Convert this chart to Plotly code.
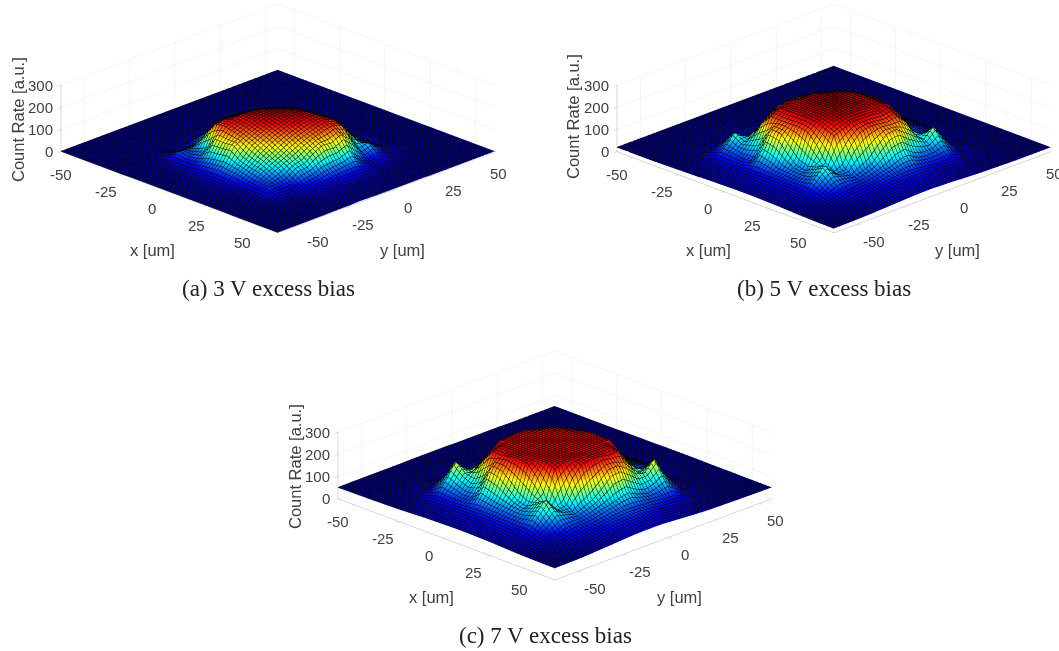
import plotly.graph_objects as go

x_um = [-59,-49,-39,-29,-24,-19,-14,-9,-4,1,6,11,16,21,26,31,36,41,46,51,61]
y_um = [-63,-53,-48,-43,-38,-33,-28,-23,-18,-13,-8,-3,2,7,12,17,22,27,37,47,57]
xy_ticks = [-50,-25,0,25,50]
z_ticks = [0,100,200,300]
captions = ["(a) 3 V excess bias","(b) 5 V excess bias","(c) 7 V excess bias"]
background_counts = [0, 18, 50]
color_tops = [215, 285, 325]

# counts above the flat background
count_3v = [
[2,2,2,2,2,3,3,3,3,3,3,3,3,3,3,3,2,2,2,2,2],
[2,2,2,3,3,4,5,5,6,7,7,7,6,5,5,4,3,3,3,2,2],
[2,2,3,4,5,5,7,8,10,12,12,12,10,8,8,8,5,4,3,3,2],
[2,2,3,6,8,14,13,16,21,24,25,24,21,16,14,13,8,5,4,3,2],
[2,2,4,10,23,45,36,40,52,60,65,60,52,39,34,38,19,8,5,4,2],
[2,3,4,8,20,42,54,70,127,126,133,95,80,72,53,36,19,8,5,4,3],
[2,3,5,12,22,50,110,170,177,167,155,137,114,95,75,42,22,12,7,5,3],
[2,3,5,16,46,82,135,178,190,184,172,158,140,115,95,74,39,21,14,9,3],
[2,3,6,22,55,110,150,175,199,196,188,176,160,140,114,80,45,25,16,10,5],
[2,3,7,28,75,118,150,175,198,203,200,190,176,158,137,112,60,28,16,10,4],
[2,3,7,30,81,118,145,172,193,202,205,200,188,172,155,133,64,32,14,8,3],
[2,3,7,31,71,118,140,164,183,195,202,203,196,184,167,127,71,35,12,8,3],
[2,3,6,21,64,104,136,155,168,183,193,198,199,190,177,150,87,30,12,8,3],
[2,3,5,16,36,105,125,141,155,164,172,177,177,178,165,114,44,20,10,6,3],
[2,3,5,12,40,90,109,125,136,140,145,150,150,135,110,55,25,12,7,5,3],
[2,3,4,8,24,70,90,105,104,115,118,118,108,80,58,70,35,14,6,4,3],
[2,2,4,6,25,35,50,53,64,71,81,75,50,39,36,39,21,8,5,4,2],
[2,2,3,5,10,14,18,22,26,30,32,30,26,20,17,20,11,6,4,3,2],
[2,2,2,3,3,4,5,5,6,7,7,7,6,5,5,4,3,3,3,2,2],
[2,2,2,2,2,3,3,3,3,3,3,3,3,3,3,3,2,2,2,2,2],
[2,2,2,2,2,2,2,2,2,2,2,2,2,2,2,2,2,2,2,2,2],
]

count_5v = [
[2,2,2,4,5,6,7,9,10,11,12,12,12,11,10,9,7,5,4,3,2],
[2,2,4,7,11,16,18,22,24,26,28,28,28,26,24,22,17,13,9,6,3],
[2,2,5,11,20,30,30,32,35,38,40,40,40,38,36,36,26,18,12,9,4],
[2,3,6,21,41,66,58,50,52,100,85,65,62,58,60,80,50,25,18,12,5],
[2,3,8,28,65,115,85,100,120,185,180,130,82,72,95,118,75,38,25,16,7],
[2,4,10,31,55,83,100,170,215,212,212,215,205,160,90,70,68,42,30,20,9],
[2,4,13,30,46,66,145,205,240,240,242,242,238,220,205,80,55,44,33,24,11],
[2,5,14,34,47,110,178,225,240,245,248,250,248,242,220,160,72,50,38,28,13],
[2,5,16,37,50,130,195,230,248,250,254,256,254,248,236,205,90,60,44,33,15],
[2,5,16,38,52,145,190,232,245,250,256,258,256,250,238,215,140,70,48,35,16],
[2,5,16,37,50,130,195,225,245,250,254,256,254,248,236,212,180,90,50,36,16],
[2,5,14,34,47,145,185,220,235,245,250,250,250,245,232,205,185,100,47,34,14],
[2,4,13,30,42,110,180,205,228,240,250,252,254,248,238,215,150,70,42,30,13],
[2,4,10,27,60,90,150,195,210,225,232,238,232,228,205,175,120,60,38,27,10],
[2,3,8,20,45,70,150,170,185,195,205,200,198,178,145,100,95,65,36,20,8],
[2,3,6,16,23,45,70,110,125,150,160,150,130,110,70,98,140,81,35,19,6],
[2,2,5,11,17,25,40,60,80,95,95,95,75,55,48,62,80,48,23,12,5],
[2,2,4,7,11,16,25,35,45,50,55,55,50,40,31,33,32,22,12,7,4],
[2,2,2,4,5,6,8,10,13,14,16,16,16,14,13,10,8,6,5,4,2],
[2,2,2,2,2,3,3,4,4,5,5,5,5,5,4,4,3,3,2,2,2],
[2,2,2,2,2,2,2,2,2,2,2,2,2,2,2,2,2,2,2,2,2],
]

count_7v = [
[1,2,3,5,6,8,10,12,13,14,15,15,14,13,12,10,8,6,5,4,3],
[2,3,5,9,15,22,26,28,32,34,35,35,34,32,30,26,22,17,12,8,4],
[2,3,6,16,30,42,40,42,45,48,50,50,48,46,44,44,32,24,16,12,5],
[2,3,8,30,59,97,80,65,68,110,95,85,80,75,80,100,62,30,22,15,7],
[2,4,11,41,93,164,123,105,130,200,190,150,105,90,118,145,100,50,32,22,10],
[2,5,14,37,77,119,120,180,240,236,247,250,240,190,100,85,85,55,38,25,12],
[2,6,17,42,61,90,155,215,265,262,270,272,270,255,235,100,70,55,42,32,15],
[3,6,20,45,62,125,183,248,262,278,283,285,283,278,255,190,90,62,48,38,18],
[3,7,21,49,68,150,218,247,270,283,289,292,289,283,270,240,110,75,55,42,20],
[3,7,22,50,70,175,225,250,272,285,292,295,292,285,272,250,150,85,60,45,21],
[3,7,21,49,68,150,218,247,270,283,289,292,289,283,270,247,195,100,62,46,21],
[3,6,20,45,62,170,205,236,262,278,283,285,283,278,262,236,200,110,58,44,20],
[2,6,17,41,55,125,200,225,243,262,270,272,270,262,265,240,170,85,55,41,17],
[2,5,14,32,80,140,170,205,225,236,243,250,247,248,215,180,130,70,52,32,14],
[2,4,11,29,50,85,170,170,200,205,218,218,218,183,155,105,128,80,46,29,11],
[2,3,8,22,31,50,80,120,130,170,175,175,150,125,92,124,175,102,45,25,8],
[2,3,6,15,24,31,50,70,90,110,110,110,90,70,63,79,98,61,32,16,6],
[2,3,5,9,15,22,29,40,50,60,65,65,60,50,43,41,44,30,17,9,5],
[1,2,3,5,6,8,11,14,17,20,21,22,21,20,17,14,11,8,6,5,3],
[1,1,2,3,3,3,4,5,6,6,7,7,7,6,6,5,4,3,3,3,2],
[1,1,1,1,1,2,2,2,2,3,3,3,3,3,2,2,2,2,1,1,1],
]

surfaces = [count_3v, count_5v, count_7v]
jet = [[0,"rgb(0,0,143)"],[0.125,"rgb(0,0,255)"],[0.375,"rgb(0,255,255)"],
       [0.625,"rgb(255,255,0)"],[0.875,"rgb(255,0,0)"],[1,"rgb(128,0,0)"]]

W, H = 1059, 651
panels = [
    dict(name="scene",  cx=278, top=0,   bottom=237),
    dict(name="scene2", cx=834, top=0,   bottom=237),
    dict(name="scene3", cx=555, top=347, bottom=584),
]
INK = "#404040"
TICKF = dict(family="Liberation Sans", size=15, color=INK)
TITLEF = dict(family="Liberation Sans", size=16.5, color=INK)
BOX = 2.59

fig = go.Figure()
layout = {}
for p, z, top, base in zip(panels, surfaces, color_tops, background_counts):
    fig.add_trace(go.Surface(
        x=x_um, y=y_um, z=[[min(v + base, 300) for v in row] for row in z],
        scene=p["name"], colorscale=jet, cmin=base, cmax=top,
        showscale=False, hoverinfo="skip",
        lighting=dict(ambient=1, diffuse=0, specular=0, fresnel=0, roughness=1),
        contours=dict(
            x=dict(show=True, start=-59, end=61, size=1.6, color="#000000", width=1, highlight=False),
            y=dict(show=True, start=-63, end=57, size=1.6, color="#000000", width=1, highlight=False),
            z=dict(highlight=False)),
    ))
    ann = []
    for t in xy_ticks:
        ann.append(dict(x=t, y=y_um[0], z=0, text=str(t), showarrow=False, xshift=-16, yshift=-17, font=TICKF))
        ann.append(dict(x=x_um[-1], y=t, z=0, text=str(t), showarrow=False, xshift=16, yshift=-17, font=TICKF))
    for t in z_ticks:
        ann.append(dict(x=x_um[0], y=y_um[0], z=t, text=str(t), showarrow=False, xanchor="right", xshift=-6, font=TICKF))
    def axis(vals, rng):
        return dict(range=rng, tickvals=vals, showticklabels=False, title=dict(text=""),
                    showgrid=True, gridcolor="#ececec", gridwidth=1, showline=True, linecolor="#b4b4b4",
                    linewidth=1, ticks="outside", ticklen=4, tickcolor="#b4b4b4", zeroline=False,
                    showbackground=False, showspikes=False)
    layout[p["name"]] = dict(
        domain=dict(x=[(p["cx"]-225)/W, (p["cx"]+225)/W], y=[1-p["bottom"]/H, 1-p["top"]/H]),
        xaxis=axis(xy_ticks, [x_um[0], x_um[-1]]),
        yaxis=axis(xy_ticks, [y_um[0], y_um[-1]]),
        zaxis=axis(z_ticks, [0, 300]),
        aspectmode="manual", aspectratio=dict(x=BOX, y=BOX, z=0.233*BOX),
        camera=dict(projection=dict(type="orthographic"),
                    center=dict(x=0, y=0, z=0),
                    eye=dict(x=1.25, y=-1.25, z=0.714), up=dict(x=0, y=0, z=1)),
        annotations=ann,
    )

def paper(x, y, text, font, angle=0):
    return dict(xref="paper", yref="paper", x=x/W, y=1-y/H, text=text, showarrow=False, font=font,
                textangle=angle, xanchor="center", yanchor="middle")

CAP = dict(family="Liberation Serif", size=23, color="#222222")
notes = []
for lx, ly, xt, yt, tyy, cx, cy, cap in [
    (18, 120, 152, 402, 250, 268, 288, captions[0]),
    (573, 117, 708, 957, 250, 824, 288, captions[1]),
    (295, 467, 431, 679, 597, 545, 635, captions[2]),
]:
    notes.append(paper(lx, ly, "Count Rate [a.u.]", TITLEF, -90))
    notes.append(paper(xt, tyy, "x [um]", TITLEF))
    notes.append(paper(yt, tyy, "y [um]", TITLEF))
    notes.append(paper(cx, cy, cap, CAP))

fig.update_layout(width=W, height=H, margin=dict(l=0, r=0, t=0, b=0), paper_bgcolor="white",
                  showlegend=False, annotations=notes, **layout)
fig.write_html("out.html", config=dict(displayModeBar=False), post_script="document.body.style.margin='0';")
